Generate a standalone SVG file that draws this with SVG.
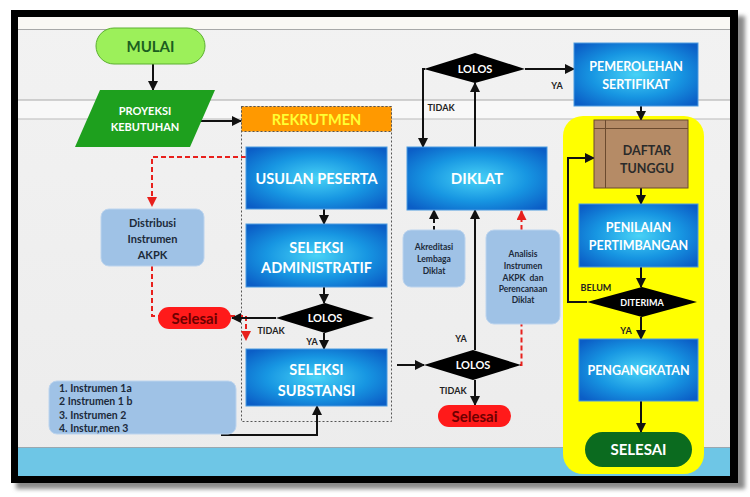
<svg xmlns="http://www.w3.org/2000/svg" width="750" height="497" viewBox="0 0 750 497">
<defs>
<radialGradient id="bl" cx="50%" cy="50%" r="65%">
<stop offset="0" stop-color="#48d2f6"/>
<stop offset="0.55" stop-color="#1796e2"/>
<stop offset="1" stop-color="#0b5ec6"/>
</radialGradient>
<linearGradient id="bg" x1="0" y1="0" x2="0" y2="1">
<stop offset="0" stop-color="#f2f2f2"/>
<stop offset="1" stop-color="#ececec"/>
</linearGradient>
<marker id="ah" viewBox="0 0 10 10" refX="9" refY="5" markerWidth="5" markerHeight="5" orient="auto">
<path d="M0 0 L10 5 L0 10 z" fill="#111"/>
</marker>
<marker id="ar" viewBox="0 0 10 10" refX="9" refY="5" markerWidth="5" markerHeight="5" orient="auto">
<path d="M0 0 L10 5 L0 10 z" fill="#e8201c"/>
</marker>
<filter id="sh" x="-5%" y="-5%" width="110%" height="110%">
<feGaussianBlur stdDeviation="2"/>
</filter>
</defs>
<style>
text{font-family:Lato,"Open Sans","Liberation Sans",sans-serif;font-weight:bold;text-anchor:middle}
.bx{fill:url(#bl);stroke:#4d9be0;stroke-width:1}
.wt{fill:#ffffff}
.lb{fill:#9fc2e6;stroke:#bcd4ee;stroke-width:1}
.dk{fill:#1c2a3a}
.c{fill:none;stroke:#111;stroke-width:2;marker-end:url(#ah)}
.rd{fill:none;stroke:#e8201c;stroke-width:2;stroke-dasharray:5 3}
.lab{font-size:9px;fill:#222}
.dia{fill:#000}
</style>
<rect x="0" y="0" width="750" height="497" fill="#ffffff"/>
<rect x="16" y="16" width="729" height="473" fill="#8a8a8a" filter="url(#sh)"/>
<rect x="11" y="10" width="727" height="473" fill="#000"/>
<rect x="18" y="17" width="712" height="459" fill="url(#bg)"/>
<rect x="18" y="17" width="712" height="12" fill="#faf8f4"/>
<line x1="18" y1="29.5" x2="730" y2="29.5" stroke="#a8a8a8" stroke-width="1"/>
<rect x="18" y="100" width="712" height="19" fill="#f8f8f8"/>
<line x1="18" y1="100" x2="730" y2="100" stroke="#a8a8a8" stroke-width="1"/>
<line x1="18" y1="119" x2="730" y2="119" stroke="#bbbbbb" stroke-width="1"/>
<rect x="18" y="448" width="712" height="28" fill="#6ec6e6"/>
<line x1="18" y1="447.5" x2="730" y2="447.5" stroke="#9aa8b0" stroke-width="1"/>

<g id="yellow-area">
<rect x="563" y="116" width="141" height="358" rx="20" fill="#ffff00"/>
</g>

<g id="rekrutmen">
<rect x="241.5" y="106.5" width="150" height="315" fill="none" stroke="#555" stroke-width="1" stroke-dasharray="2 2"/>
<rect x="241.5" y="106.5" width="150" height="25" fill="#ff9900" stroke="#555" stroke-width="1" stroke-dasharray="2 2"/>
<text x="316.5" y="125" font-size="14.5" fill="#ffff33">REKRUTMEN</text>
</g>

<g id="connectors">
<path class="c" d="M153 64 V90"/>
<path class="c" d="M200 121 H241"/>
<path class="c" d="M324 209 V224"/>
<path class="c" d="M324 287 V303"/>
<path class="rd" d="M246 157 H152 V206" marker-end="url(#ar)"/>
<path class="rd" d="M152 266 V316 H246 V340" marker-end="url(#ar)"/>
<path class="c" d="M276 318 H232"/>
<path class="c" d="M324 333 V349"/>
<path class="c" d="M221 435 H317 V406"/>
<path class="c" d="M397 365 H424"/>
<path class="c" d="M475 350 V210"/>
<path class="c" d="M475 380 V405"/>
<path class="c" d="M475 147 V83"/>
<path class="c" d="M425 69 H423 V147"/>
<path class="c" d="M525 69 H574"/>
<path d="M434 230 V210" fill="none" stroke="#111" stroke-width="2" stroke-dasharray="4 3" marker-end="url(#ah)"/>
<path class="rd" d="M520 365 H521.5 V324"/>
<path class="rd" d="M521.5 230 V211" marker-end="url(#ar)"/>
<path class="c" d="M641 106 V120"/>
<path class="c" d="M641 188 V204"/>
<path class="c" d="M641 267 V287"/>
<path class="c" d="M587 302 H568 V158 H594"/>
<path class="c" d="M641 317 V339"/>
<path class="c" d="M641 401 V432"/>
</g>

<g id="mulai">
<rect x="96" y="28" width="109" height="36" rx="18" fill="#9cf05a" stroke="#5cb030" stroke-width="1"/>
<text x="150.5" y="52" font-size="15" fill="#1b5e20">MULAI</text>
</g>

<g id="proyeksi">
<polygon points="100,90 215,90 190,147 75,147" fill="#1ea01e"/>
<text class="wt" x="145" y="115" font-size="11">PROYEKSI</text>
<text class="wt" x="145" y="131" font-size="11">KEBUTUHAN</text>
</g>

<g id="usulan">
<rect class="bx" x="246" y="147" width="141" height="62"/>
<text class="wt" x="316.5" y="184" font-size="14.5">USULAN PESERTA</text>
</g>

<g id="seleksi-admin">
<rect class="bx" x="246" y="224" width="141" height="63"/>
<text class="wt" x="316.5" y="253" font-size="14.5">SELEKSI</text>
<text class="wt" x="316.5" y="273" font-size="14.5">ADMINISTRATIF</text>
</g>

<g id="lolos1">
<polygon class="dia" points="276,318 325,303 374,318 325,333"/>
<text class="wt" x="325" y="322" font-size="11">LOLOS</text>
</g>

<g id="selesai1">
<rect x="158" y="307" width="73" height="22" rx="11" fill="#ff1a1a"/>
<text x="194.5" y="324" font-size="15" fill="#6e0000">Selesai</text>
</g>

<g id="distribusi">
<rect class="lb" x="101" y="209" width="103" height="57" rx="8"/>
<text class="dk" x="152.5" y="227" font-size="11">Distribusi</text>
<text class="dk" x="152.5" y="243" font-size="11">Instrumen</text>
<text class="dk" x="152.5" y="259" font-size="11">AKPK</text>
</g>

<g id="seleksi-substansi">
<rect class="bx" x="246" y="349" width="141" height="57"/>
<text class="wt" x="316.5" y="375" font-size="14.5">SELEKSI</text>
<text class="wt" x="316.5" y="396" font-size="14.5">SUBSTANSI</text>
</g>

<g id="instrumen">
<rect class="lb" x="49" y="381" width="187" height="53" rx="8"/>
<text class="dk" x="59" y="391.5" font-size="10.5" style="text-anchor:start">1. Instrumen 1a</text>
<text class="dk" x="59" y="405" font-size="10.5" style="text-anchor:start">2 Instrumen 1 b</text>
<text class="dk" x="59" y="418.5" font-size="10.5" style="text-anchor:start">3. Instrumen 2</text>
<text class="dk" x="59" y="432" font-size="10.5" style="text-anchor:start">4. Instur,men 3</text>
</g>

<g id="lolos2">
<polygon class="dia" points="424,365 473,350 521,365 473,380"/>
<text class="wt" x="473" y="369" font-size="11">LOLOS</text>
</g>

<g id="selesai2">
<rect x="438" y="405" width="73" height="22" rx="11" fill="#ff1a1a"/>
<text x="474.5" y="422" font-size="15" fill="#6e0000">Selesai</text>
</g>

<g id="diklat">
<rect class="bx" x="407" y="147" width="140" height="63"/>
<text class="wt" x="477" y="184" font-size="15">DIKLAT</text>
</g>

<g id="akreditasi">
<rect class="lb" x="403" y="230" width="62" height="57" rx="8"/>
<text class="dk" x="434" y="250" font-size="8.5">Akreditasi</text>
<text class="dk" x="434" y="262" font-size="8.5">Lembaga</text>
<text class="dk" x="434" y="274" font-size="8.5">Diklat</text>
</g>

<g id="analisis">
<rect class="lb" x="486" y="230" width="74" height="94" rx="8"/>
<text class="dk" x="523" y="257" font-size="8.5">Analisis</text>
<text class="dk" x="523" y="269" font-size="8.5">Instrumen</text>
<text class="dk" x="523" y="281" font-size="8.5" xml:space="preserve">AKPK  dan</text>
<text class="dk" x="523" y="292" font-size="8.5">Perencanaan</text>
<text class="dk" x="523" y="303" font-size="8.5">Diklat</text>
</g>

<g id="lolos3">
<polygon class="dia" points="424,69 475,53 525,69 475,83"/>
<text class="wt" x="475" y="73" font-size="11">LOLOS</text>
</g>

<g id="pemerolehan">
<rect class="bx" x="574" y="43" width="124" height="63"/>
<text class="wt" x="636" y="71" font-size="12.5">PEMEROLEHAN</text>
<text class="wt" x="636" y="89" font-size="12.5">SERTIFIKAT</text>
</g>

<g id="daftar-tunggu">
<rect x="594" y="120" width="94" height="68" fill="#b58b66" stroke="#6b4a2e" stroke-width="1"/>
<line x1="594" y1="128.5" x2="688" y2="128.5" stroke="#6b4a2e" stroke-width="1"/>
<line x1="605.5" y1="120" x2="605.5" y2="188" stroke="#6b4a2e" stroke-width="1"/>
<text x="647" y="155" font-size="12.5" fill="#2a2a2a">DAFTAR</text>
<text x="647" y="173" font-size="12.5" fill="#2a2a2a">TUNGGU</text>
</g>

<g id="penilaian">
<rect class="bx" x="579" y="204" width="119" height="63"/>
<text class="wt" x="638.5" y="232" font-size="12.5">PENILAIAN</text>
<text class="wt" x="638.5" y="250" font-size="12.5">PERTIMBANGAN</text>
</g>

<g id="diterima">
<polygon class="dia" points="587,302 642,287 697,302 642,317"/>
<text class="wt" x="642" y="305.5" font-size="9">DITERIMA</text>
</g>

<g id="pengangkatan">
<rect class="bx" x="579" y="339" width="119" height="62"/>
<text class="wt" x="638.5" y="375" font-size="12.5">PENGANGKATAN</text>
</g>

<g id="selesai-akhir">
<rect x="585" y="432" width="107" height="35" rx="17.5" fill="#0b6b1f"/>
<text class="wt" x="638.5" y="455" font-size="15">SELESAI</text>
</g>

<g id="labels">
<text class="lab" x="271" y="334">TIDAK</text>
<text class="lab" x="312" y="345">YA</text>
<text class="lab" x="441" y="111">TIDAK</text>
<text class="lab" x="557" y="89">YA</text>
<text class="lab" x="461" y="342">YA</text>
<text class="lab" x="453" y="394">TIDAK</text>
<text class="lab" x="596" y="291">BELUM</text>
<text class="lab" x="626" y="334">YA</text>
</g>
</svg>
